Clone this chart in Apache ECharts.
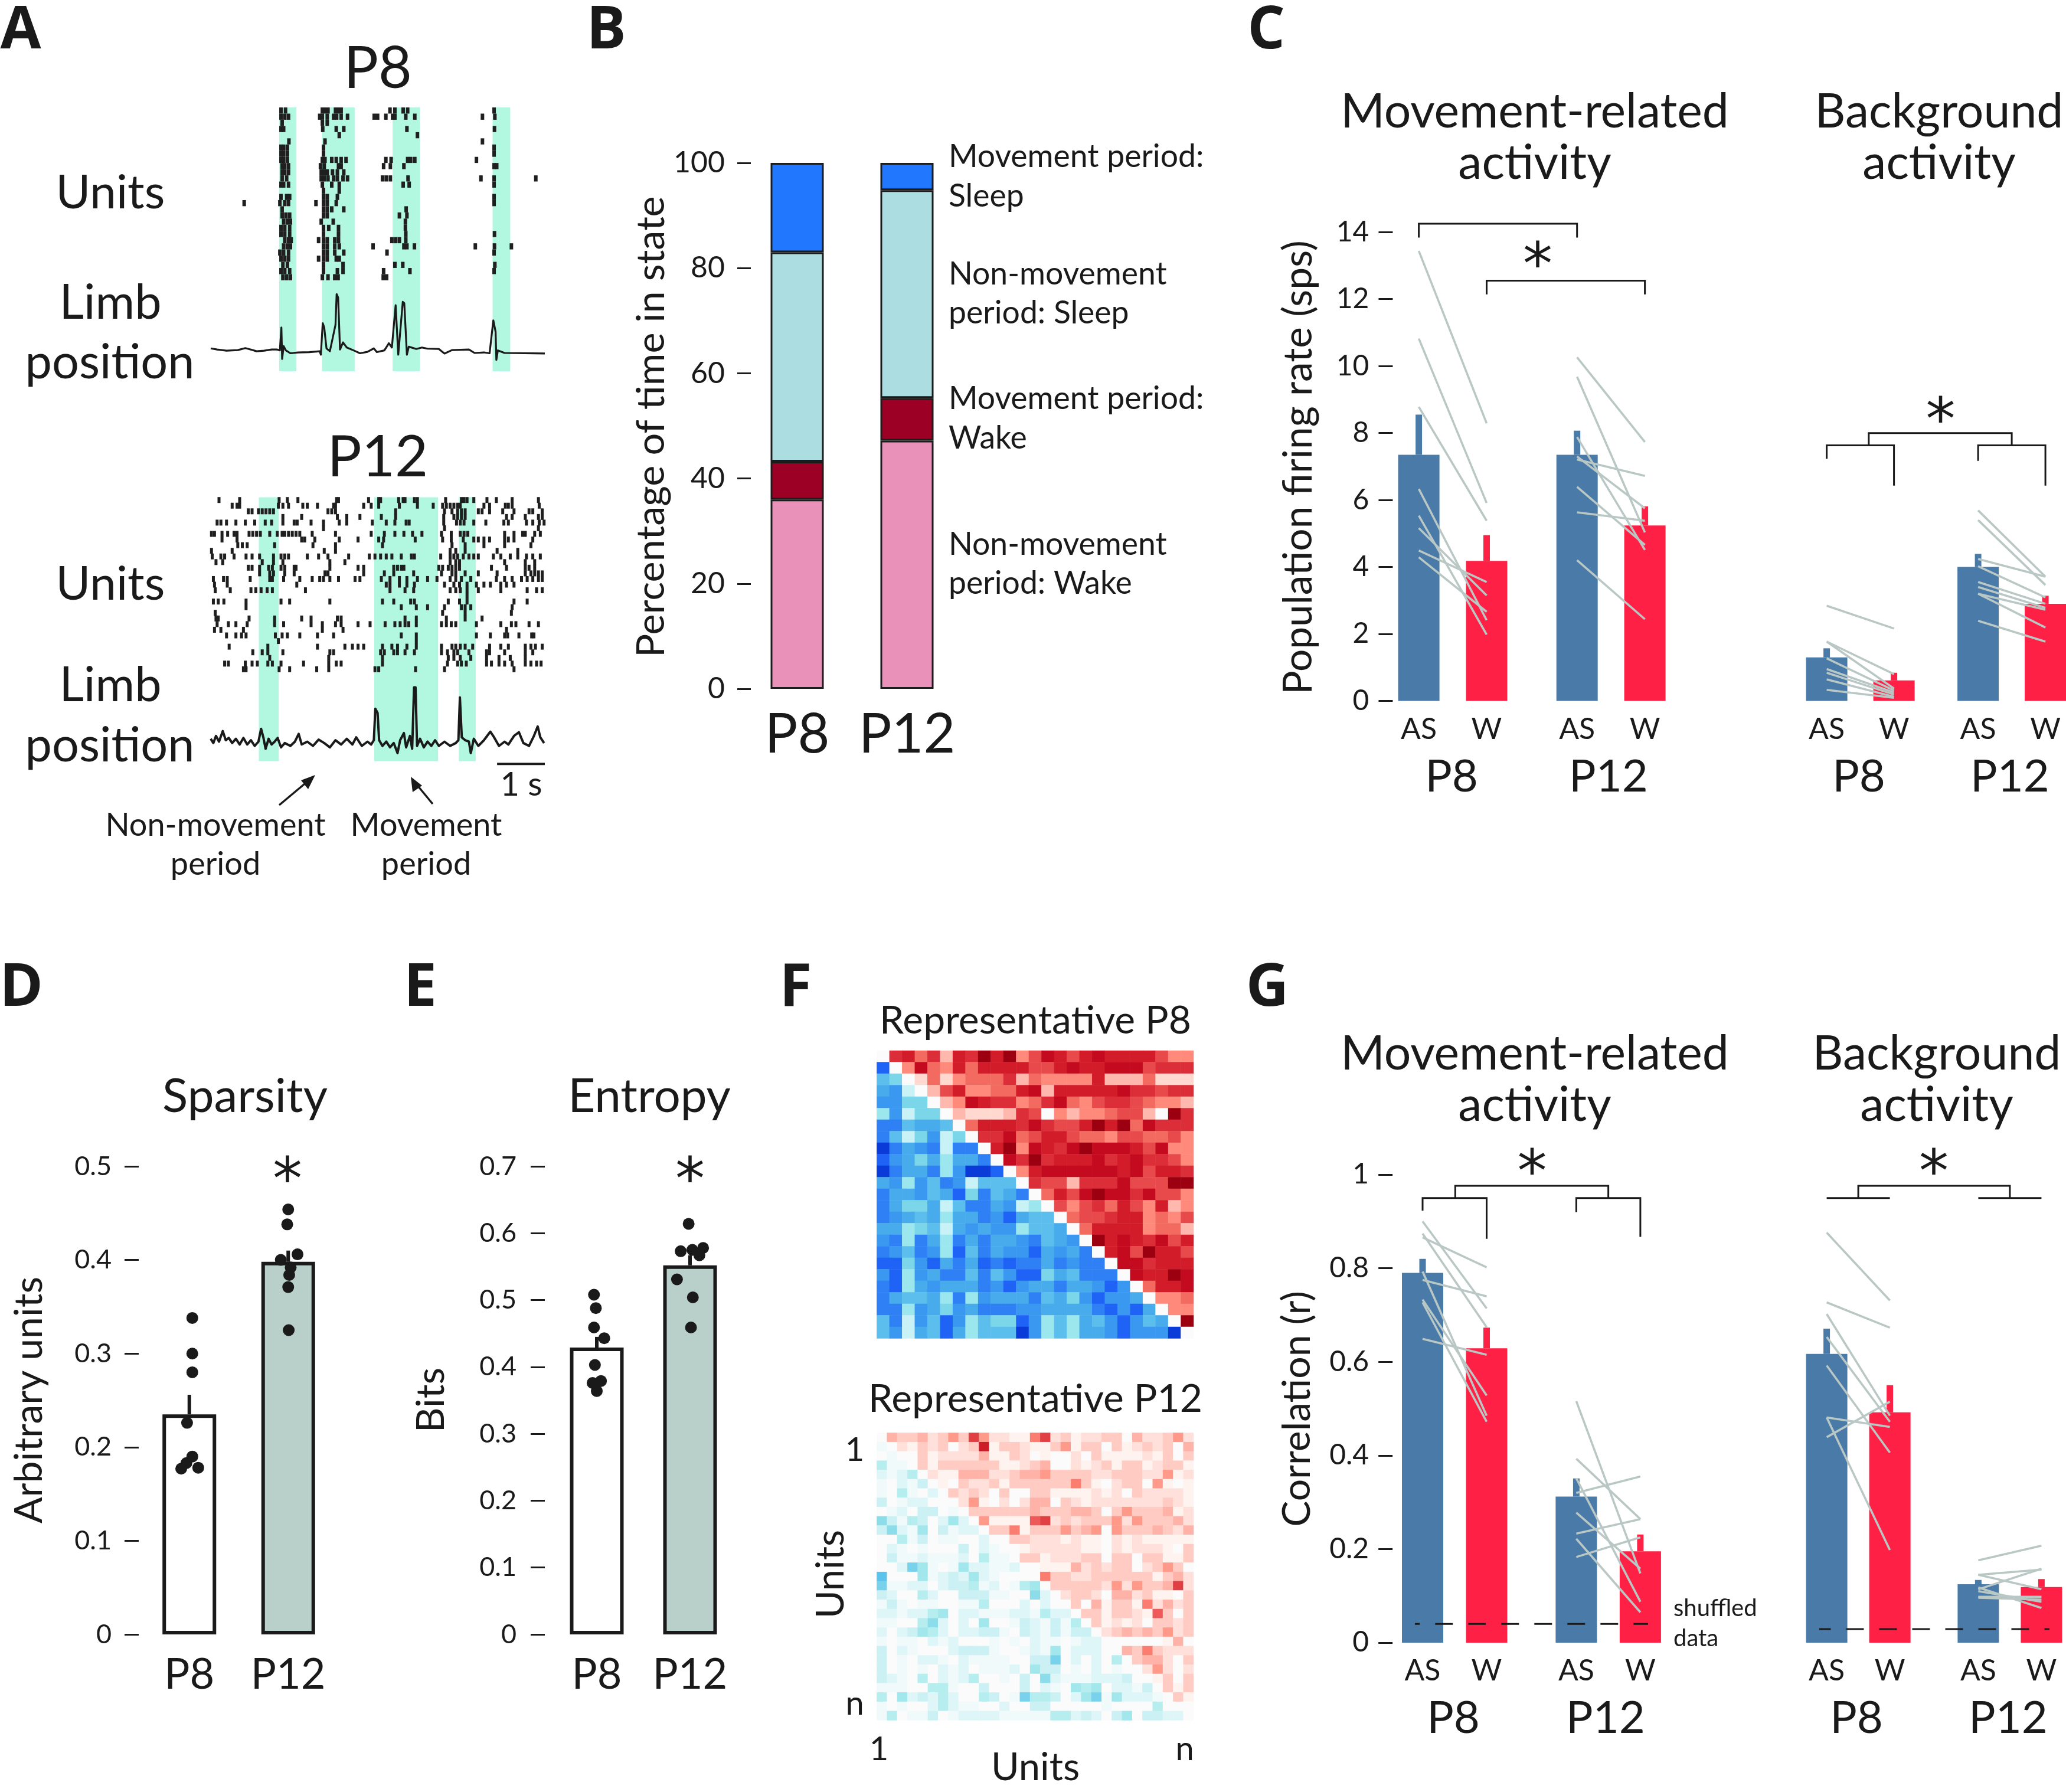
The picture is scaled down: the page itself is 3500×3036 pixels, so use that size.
<!DOCTYPE html>
<html><head><meta charset="utf-8">
<style>html,body{margin:0;padding:0;background:#fff}#c{width:3500px;height:3036px}</style>
<script src="https://cdn.jsdelivr.net/npm/echarts@6/dist/echarts.min.js"></script>
</head><body><div id="c"></div>
<script>
// ---------- Panel A: time in recording samples (127 samples = 1 s)
const p8Bands=[[740,786],[854,941],[1042,1115],[1308,1355]];
const p12Bands=[[686,739],[993,1163],[1218,1263]];
const p8Rows=[
[745,757,855,862,870,890,897,905,1035,1048,1070,1082,1312],
[745,755,765,848,855,868,885,893,905,922,993,1002,1024,1042,1048,1077,1101,1281,1314],
[748,855,868],
[745,752,856,892,912,1080,1313],
[900,1108],
[766,862,1281],
[745,752,762,858,1312],
[745,752,762,858,1312],
[745,752,762,855,862,880,892,905,918,1024,1038,1082,1090,1101,1265],
[748,755,765,850,860,898,905,1018,1036,1072,1312,1319],
[748,755,765,852,860,868,882,895,912],
[748,760,852,860,870,885,895,910,922,1015,1025,1036,1083,1277,1312,1423],
[745,752,765,855,880,900,1070,1086,1312],
[858,900],
[745,760,768,858,868,895,1312],
[647,742,755,765,838,858,868,892,1312],
[748,858,868,880,912,1078],
[748,758,768,858,868,1060,1080],
[752,762,770,852,884,1076],
[745,755,768,858,872,898,1076],
[745,755,768,858,898,1077,1313],
[755,765,772,845,858,868,888,898,1040,1050,1060,1077],
[752,762,770,858,868,888,900,990,1072,1080,1100,1262,1313,1358],
[742,752,765,858,868,888,912,1027,1312],
[745,755,765,845,858,868,892,900],
[750,762,858,910,1048,1069,1314],
[745,755,768,858,895,910,1018,1088,1312],
[750,760,770,855,870,888,897,1017,1026]];
const p12Rows=[
[580,635,740,762,790,893,898,978,1005,1010,1058,1070,1075,1100,1108,1183,1225,1232,1240,1258,1293,1318,1360,1430],
[615,628,635,738,750,765,803,815,842,885,890,965,985,1005,1060,1108,1150,1175,1185,1195,1205,1215,1222,1285,1300,1342,1350,1360,1432],
[658,668,685,695,705,715,725,870,880,890,1050,1180,1200,1215,1225,1235,1270,1280,1300,1335,1365,1405,1415,1440],
[750,800,895,920,955,1012,1050,1178,1205,1215,1225,1235,1345,1360,1395,1430,1440],
[575,585,600,625,650,675,703,720,750,780,788,825,858,900,920,988,1025,1048,1078,1086,1178,1212,1222,1232,1258,1290,1338,1350,1398,1415,1432,1445],
[858,1180,1430],
[560,568,588,603,620,628,660,670,680,690,715,735,748,755,765,775,785,795,828,890,985,1020,1048,1072,1095,1120,1172,1198,1222,1232,1242,1340,1365,1388,1395,1420,1435],
[588,628,800,808,835,900,950,1005,1018,1102,1175,1198,1230,1258,1270,1285,1300,1340,1350,1365,1415],
[630,642,655,728,830,890,1015,1200,1235,1285,1340,1410],
[560,615,860,890,1195,1210,1235,1320,1375],
[562,585,595,620,652,668,688,725,745,755,765,815,845,870,925,980,995,1010,1025,1040,1065,1092,1100,1170,1195,1205,1215,1230,1245,1258,1270,1310,1330,1355,1375,1398,1415,1435],
[572,590,695,725,750,875,915,1195,1210,1220,1340,1395,1420],
[658,668,688,712,722,745,755,780,785,875,950,965,1045,1055,1065,1072,1165,1175,1190,1200,1210,1220,1305,1345,1395,1405,1420],
[688,715,725,755,780,862,870,965,1020,1045,1098,1172,1200,1210,1235,1270,1320,1395,1410,1420,1430,1440],
[565,592,602,663,715,722,752,795,828,848,858,875,898,942,955,1012,1035,1060,1080,1108,1135,1160,1195,1210,1225,1250,1318,1340,1360,1385,1400,1415,1430,1440],
[568,602,787,1025,1035,1060,1080,1100,1180,1205,1220,1240,1265,1285,1302,1330,1345,1365],
[570,610,665,678,692,708,722,810,1035,1075,1098,1195,1210,1222,1240,1270,1330,1400,1425,1440],
[1240],
[565,578,593,652,745,768,875,1015,1045,1090,1100,1190,1220,1240,1365,1400],
[652,1065,1105,1135,1180,1225,1235,1250,1360],
[570,1175,1235,1358],
[572,578,660,728,800,825,895,905,1075,1105,1185,1235,1280],
[575,605,625,655,728,752,825,855,890,905,950,982,1022,1048,1062,1075,1085,1105,1172,1185,1198,1210,1265,1330,1358,1370,1405,1430],
[568,585,645,855,910,1345],
[600,625,640,652,730,748,762,795,842,885,1065,1105,1265,1302,1340,1348,1378,1412,1418],
[738,1105],
[607,710,842,915,935,950,965,1015,1040,1055,1080,1105,1172,1200,1210,1222,1235,1255,1300,1330,1350,1395,1410,1422,1440],
[670,695,710,750,875,885,1010,1020,1045,1055,1075,1100,1172,1188,1205,1215,1245,1292,1300,1340,1395,1415],
[715,872,1015,1190,1205,1222,1250,1292,1325,1355,1395],
[595,605,650,668,682,710,722,745,805,872,892,905,1015,1188,1215,1225,1238,1292,1305,1325,1340,1360,1395,1410,1425,1437],
[645,652,740,768,840,872,995,1005,1103,1180,1365]];
const p8Limb=[[558,80],[575,76],[600,72],[630,74],[650,81],[665,76],[680,70],[700,72],[720,76],[735,76],[742,73],[746,153],[748,43],[752,88],[758,73],[770,63],[790,66],[820,67],[848,70],[851,58],[856,168],[860,153],[866,80],[875,70],[882,113],[890,163],[893,270],[897,258],[902,76],[910,101],[920,83],[940,72],[955,63],[975,68],[992,80],[1000,67],[1020,73],[1032,98],[1040,83],[1050,231],[1057,58],[1069,243],[1073,238],[1080,58],[1085,86],[1105,78],[1120,83],[1135,79],[1165,78],[1180,62],[1200,74],[1245,76],[1260,64],[1285,66],[1300,63],[1310,178],[1316,138],[1318,40],[1322,73],[1340,64],[1447,62]];
const p12Limb=[[558,78],[565,63],[572,88],[580,68],[590,105],[598,73],[606,81],[615,63],[625,78],[635,58],[645,81],[655,58],[665,73],[675,53],[685,68],[692,113],[698,83],[704,43],[712,78],[720,58],[728,68],[736,81],[745,48],[755,63],[770,53],[782,68],[792,95],[800,58],[815,68],[830,53],[845,75],[860,63],[875,48],[890,73],[905,58],[920,78],[935,58],[945,83],[960,53],[975,68],[985,58],[992,73],[996,183],[1002,168],[1006,73],[1015,53],[1025,68],[1035,48],[1045,63],[1055,28],[1062,73],[1072,98],[1078,48],[1088,88],[1094,43],[1099,258],[1103,258],[1107,53],[1115,78],[1125,48],[1135,68],[1145,53],[1155,73],[1165,53],[1180,68],[1195,53],[1210,63],[1217,73],[1221,223],[1226,83],[1235,73],[1245,68],[1250,28],[1258,78],[1270,53],[1285,73],[1302,103],[1312,83],[1325,53],[1340,68],[1350,58],[1365,88],[1378,101],[1390,63],[1405,53],[1418,88],[1428,121],[1435,83],[1445,63]];
const scaleBarSamples=[1320,1447];

// ---------- Panel B
const bCategories=['P8','P12'];
const bNonMoveWake=[36,47.2];
const bMoveWake=[7.2,8.1];
const bNonMoveSleep=[39.8,39.5];
const bMoveSleep=[17,5.2];

// ---------- Panel C (mean, mean + s.e.m., paired lines AS -> W)
const cMoveMeans=[7.35,4.18,7.35,5.24];
const cMoveErr=[8.55,4.95,8.07,5.81];
const cBgMeans=[1.30,0.61,4.0,2.9];
const cBgErr=[1.57,0.84,4.39,3.14];
const cMoveP8AS=[13.44,10.82,8.78,6.33,5.53,5.16,4.49,4.29];
const cMoveP8W=[8.29,5.91,5.38,2.41,1.98,3.15,3.55,2.66];
const cMoveP12AS=[10.26,9.68,7.88,7.21,7.3,6.39,5.63,4.2];
const cMoveP12W=[7.73,5.03,4.51,6.72,5.75,4.66,5.38,2.44];
const cBgP8AS=[2.84,1.77,1.77,1.27,0.95,0.84,0.64,0.33];
const cBgP8W=[2.16,0.8,0.37,0.31,0.25,0.19,0.12,0.09];
const cBgP12AS=[5.69,5.4,4.24,4.02,3.55,3.4,3.2,3.2,2.39];
const cBgP12W=[3.71,3.46,3.71,3.09,2.9,2.78,2.72,2.19,1.77];

// ---------- Panel D / E
const dMeans=[0.235,0.398], dErr=[0.256,0.41];
const dP8Dots=[0.338,0.30,0.28,0.226,0.19,0.183,0.177,0.178];
const dP8Jitter=[0.03,0.03,0.03,-0.023,0.03,-0.03,-0.082,0.09];
const dP12Dots=[0.454,0.438,0.406,0.40,0.392,0.384,0.371,0.325];
const dP12Jitter=[0,-0.01,0.094,-0.075,0.025,0.01,0,0.005];
const eMeans=[0.429,0.552], eErr=[0.445,0.567];
const eP8Dots=[0.508,0.488,0.459,0.443,0.403,0.379,0.376,0.364];
const eP8Jitter=[-0.03,-0.01,-0.03,0.08,-0.02,0.045,-0.045,0];
const eP12Dots=[0.614,0.573,0.575,0.578,0.567,0.531,0.504,0.459];
const eP12Jitter=[-0.015,-0.1,0.025,0.14,0.1,-0.14,0.03,0.01];

// ---------- Panel F: shade level 0-9, upper triangle red, lower triangle blue
const p8Levels=[
"06746 27697 93587 57877 77533","80384 37477 77557 87788 85666","43014 13444 62433 33722 24111","56102 57334 47827 77778 66566","66330 23876 63468 43566 54332",
"26133 02111 26503 23345 52096","77455 40477 76865 57979 48666","74136 13066 84577 54435 54453","97567 17707 93876 89888 75833","86535 25570 86967 77867 86653",
"97557 26998 03788 88887 85776","56264 76144 40655 26668 55599","75564 58374 57047 58988 68553","75335 14775 61205 35647 53723","76545 25576 85440 45567 73435",
"55234 15656 62445 04777 73442","67275 27575 56745 60978 76857","76476 28475 66856 57078 59775","88368 57587 87757 67708 86777","68265 77474 68835 47770 87798",
"78256 55576 86557 55686 04778","75445 27265 55745 36866 50334","77265 36577 76655 55786 85033","47164 86243 38624 25468 64509","46154 85244 49624 25568 66690"];
const p12Levels=[
"04334 23538 52211 68231 22330 42235 2","10213 23023 91332 11351 33031 23230 4","01003 12222 41132 01002 03111 12130 3","41103 13333 33112 34002 12313 31233 1",
"21240 21144 42234 45333 32233 32251 2","10213 01032 23133 33336 31023 30510 1","10410 20323 20300 33111 12120 32222 1","30122 00025 10202 44032 12222 22232 1",
"01203 30103 33333 43334 43035 33341 2","63143 02520 51111 78232 33352 53334 2","36215 03122 03361 33353 45053 33432 4","00413 01100 20033 22212 11021 21111 1",
"02101 00030 21001 22222 11021 22210 3","03112 11120 41103 31222 33033 03311 3","00275 10152 21120 01114 23233 02353 0","80005 12325 21000 06332 23333 33134 2",
"71122 02334 12014 50333 33252 53348 2","32004 20033 31100 62023 32044 23110 3","13101 10011 40002 02003 04133 16242 3","22122 45022 11122 14220 33133 21730 3",
"11004 62020 50013 21314 03121 20332 3","20235 42022 33103 21313 30234 34352 3","10110 21200 01010 21101 22000 00014 0","30210 00233 31001 21502 22004 36322 2",
"30102 21021 11100 33702 02040 34420 3","30101 02120 11120 53301 02010 02520 2","32104 02124 00103 06211 12223 00130 3","11100 44100 30003 02105 45022 13031 3",
"40523 24200 43017 44302 57152 22103 1","10100 24211 00200 33000 00100 00400 0","14011 30122 22111 11442 32035 03322 0"];

// ---------- Panel G
const gMoveMeans=[0.79,0.629,0.312,0.195];
const gMoveErr=[0.82,0.673,0.351,0.231];
const gBgMeans=[0.617,0.492,0.125,0.119];
const gBgErr=[0.671,0.55,0.134,0.136];
const gMoveP8AS=[0.90,0.874,0.866,0.793,0.775,0.733,0.727,0.649];
const gMoveP8W=[0.714,0.674,0.802,0.485,0.74,0.528,0.472,0.615];
const gMoveP12AS=[0.516,0.393,0.351,0.32,0.278,0.233,0.222,0.183];
const gMoveP12W=[0.148,0.264,0.0875,0.355,0.158,0.264,0.065,0.225];
const gBgP8AS=[0.876,0.727,0.702,0.653,0.592,0.481,0.439,0.481];
const gBgP8W=[0.731,0.673,0.485,0.472,0.406,0.198,0.515,0.461];
const gBgP12AS=[0.176,0.145,0.145,0.114,0.11,0.098,0.096,0.118];
const gBgP12W=[0.207,0.156,0.114,0.158,0.0875,0.098,0.092,0.074];
const gShuffledMove=0.04, gShuffledBg=0.029;

// ---------- styling
const FF='Lato', INK='#1a1a1a', BLUE='#4A7BA8', RED='#FF2145', GRAY='#B9C7C5', MINT='#B2F7E0';
const grids=[],xAxes=[],yAxes=[],series=[],gfx=[],visualMaps=[];
const T=(text,x,y,size,o={})=>gfx.push({type:'text',x,y,rotation:o.rot||0,z:50,silent:true,style:{text,fontFamily:o.ff||FF,fontSize:size,fontWeight:o.w||'normal',fill:INK,align:o.a||'center',verticalAlign:'middle'}});
const STAR=(x,y)=>T('*',x,y+23,100,{ff:'DejaVu Sans'});
const LINE=(g,pts,color,width,o={})=>series.push({type:'line',xAxisIndex:g.xv,yAxisIndex:g.y,data:pts,symbol:'none',clip:false,silent:true,animation:false,z:o.z||5,lineStyle:{color,width,type:o.dash||'solid',cap:'butt',join:'miter'}});

function addPanel(c){
  const gi=grids.length;
  grids.push({left:c.left,top:c.top,width:c.width,height:c.height,containLabel:false});
  const xc=xAxes.length;
  xAxes.push({gridIndex:gi,type:'category',data:c.slots,axisLine:{show:false},axisTick:{show:false},
    axisLabel:{interval:0,hideOverlap:false,margin:c.xMargin,fontFamily:FF,fontSize:c.xSize,color:INK}});
  const xv=xAxes.length;
  xAxes.push({gridIndex:gi,type:'value',show:false,min:-0.5,max:c.slots.length-0.5});
  const y=yAxes.length;
  yAxes.push({gridIndex:gi,type:'value',min:0,max:c.yMax,interval:c.yInt,show:c.showY!==false,offset:c.offset||0,splitLine:{show:false},axisLine:{show:false,onZero:false},
    axisTick:{show:true,length:c.tick,lineStyle:{color:INK,width:3}},
    axisLabel:{margin:c.yMargin,fontFamily:FF,fontSize:c.ySize,color:INK}});
  return {xc,xv,y};
}
function bars(g,slotsN,pos,vals,colors,extra={}){
  const d=new Array(slotsN).fill('-');
  pos.forEach((p,i)=>{d[p]={value:vals[i],itemStyle:{color:colors[i],borderColor:extra.border||null,borderWidth:extra.bw||0}}});
  series.push({type:'bar',xAxisIndex:g.xc,yAxisIndex:g.y,data:d,barWidth:extra.w,clip:false,silent:true,animation:false,z:2});
}
function slotLabels(n,pos,labels){const s=new Array(n).fill('');pos.forEach((p,i)=>{s[p]=labels[i]||' '});return s;}
function pairs(g,a,b,x0,x1){a.forEach((v,i)=>LINE(g,[[x0,v],[x1,b[i]]],GRAY,3.6,{z:6}));}

// ---------- Panel A
function raster(top,rows,bands,limb,rowMax,mk,limbW){
  const gi=grids.length;
  grids.push({left:357,top,width:566,height:447,containLabel:false});
  const x=xAxes.length;xAxes.push({gridIndex:gi,type:'value',show:false,min:558,max:1447});
  const yr=yAxes.length;yAxes.push({gridIndex:gi,type:'value',show:false,inverse:true,min:0,max:rowMax});
  const yl=yAxes.length;yAxes.push({gridIndex:gi,type:'value',show:false,min:0,max:923});
  series.push({type:'custom',xAxisIndex:x,yAxisIndex:yl,data:bands,silent:true,animation:false,z:1,clip:false,
    renderItem:(p,api)=>{const a=api.coord([api.value(0),923]),b=api.coord([api.value(1),0]);
      return {type:'rect',shape:{x:a[0],y:a[1],width:b[0]-a[0],height:b[1]-a[1]},style:{fill:MINT}}},
    encode:{x:[0,1],y:[]}});
  const pts=[];rows.forEach((r,i)=>r.forEach(t=>pts.push([t,i+0.5])));
  series.push({type:'scatter',xAxisIndex:x,yAxisIndex:yr,data:pts,symbol:'rect',symbolSize:mk,silent:true,animation:false,z:3,itemStyle:{color:'#1f1f1f',opacity:1}});
  series.push({type:'line',xAxisIndex:x,yAxisIndex:yl,data:limb,symbol:'none',silent:true,animation:false,clip:false,z:4,lineStyle:{color:INK,width:limbW,join:'round'}});
  return {xv:x,y:yl};
}
raster(182,p8Rows,p8Bands,p8Limb,42.73,[6,10.4],3.2);
const a2=raster(842.4,p12Rows,p12Bands,p12Limb,46.78,[5,10],4);
LINE(a2,[[scaleBarSamples[0],-10],[scaleBarSamples[1],-10]],INK,4);

// ---------- Panel B
(function(){
  const gi=grids.length;
  grids.push({left:1257.5,top:276,width:372,height:891,containLabel:false});
  const x=xAxes.length;xAxes.push({gridIndex:gi,type:'category',data:bCategories,axisLine:{show:false},axisTick:{show:false},axisLabel:{interval:0,hideOverlap:false,margin:31,fontFamily:FF,fontSize:93,color:INK}});
  const y=yAxes.length;yAxes.push({gridIndex:gi,type:'value',min:0,max:100,interval:20,offset:-14.5,splitLine:{show:false},axisLine:{show:false,onZero:false},axisTick:{show:true,length:23,lineStyle:{color:INK,width:3}},axisLabel:{margin:44,fontFamily:FF,fontSize:50,color:INK}});
  [[bNonMoveWake,'#E991B8'],[bMoveWake,'#9C0025'],[bNonMoveSleep,'#ABDDE1'],[bMoveSleep,'#2277FF']].forEach(([d,col])=>
    series.push({type:'bar',stack:'b',xAxisIndex:x,yAxisIndex:y,data:d,barWidth:90,silent:true,animation:false,itemStyle:{color:col,borderColor:'#1c1c1c',borderWidth:3}}));
})();

// ---------- Panel C
const cCommon={top:393.3,height:794.1,yMax:14,yInt:2,xMargin:23,xSize:50};
const cLeftPos=[0,3,7,10], cRightPos=[0,4,9,13];
const SL=['AS','W','AS','W'];
const gC1=addPanel({...cCommon,left:2384.45,width:421.3,slots:slotLabels(11,cLeftPos,SL),offset:25,tick:24,yMargin:40,ySize:48});
bars(gC1,11,cLeftPos,cMoveMeans,[BLUE,RED,BLUE,RED],{w:70});
cLeftPos.forEach((p,i)=>LINE(gC1,[[p,cMoveMeans[i]],[p,cMoveErr[i]]],i%2?RED:BLUE,11,{z:3}));
pairs(gC1,cMoveP8AS,cMoveP8W,0,3);pairs(gC1,cMoveP12AS,cMoveP12W,7,10);
LINE(gC1,[[0,13.84],[0,14.25],[7,14.25],[7,13.84]],INK,3);
LINE(gC1,[[3,12.14],[3,12.55],[10,12.55],[10,12.14]],INK,3);
const gC2=addPanel({...cCommon,left:3080.35,width:399,slots:slotLabels(14,cRightPos,SL),showY:false,tick:0,yMargin:0,ySize:10});
bars(gC2,14,cRightPos,cBgMeans,[BLUE,RED,BLUE,RED],{w:70});
cRightPos.forEach((p,i)=>LINE(gC2,[[p,cBgMeans[i]],[p,cBgErr[i]]],i%2?RED:BLUE,11,{z:3}));
pairs(gC2,cBgP8AS,cBgP8W,0,4);pairs(gC2,cBgP12AS,cBgP12W,9,13);
LINE(gC2,[[0,7.23],[0,7.63],[4,7.63],[4,6.43]],INK,3);
LINE(gC2,[[9,7.17],[9,7.63],[13,7.63],[13,6.43]],INK,3);
LINE(gC2,[[2.5,7.63],[2.5,8.0],[11,8.0],[11,7.63]],INK,3);

// ---------- Panel D, E
function dotPanel(left,width,yMax,offset,yMargin,means,err,dotsA,jitA,dotsB,jitB){
  const g=addPanel({left,width,top:1976,height:793,slots:['P8','P12'],yMax,yInt:0.1,offset,tick:24,yMargin,ySize:45,xMargin:33,xSize:72});
  bars(g,2,[0,1],means,['#FFFFFF','#B9D0CA'],{w:91,border:INK,bw:6});
  [0,1].forEach(i=>LINE(g,[[i,means[i]],[i,err[i]]],INK,6,{z:3}));
  const pts=[...dotsA.map((v,i)=>[jitA[i],v]),...dotsB.map((v,i)=>[1+jitB[i],v])];
  series.push({type:'scatter',xAxisIndex:g.xv,yAxisIndex:g.y,data:pts,symbol:'circle',symbolSize:20,silent:true,animation:false,clip:false,z:8,itemStyle:{color:INK,opacity:1}});
}
dotPanel(237,335,0.5,2,46,dMeans,dErr,dP8Dots,dP8Jitter,dP12Dots,dP12Jitter);
dotPanel(932,316,0.7,9,48,eMeans,eErr,eP8Dots,eP8Jitter,eP12Dots,eP12Jitter);

// ---------- Panel F
function heat(top,height,levels,reds,blues){
  const rows=levels.map(s=>s.replace(/ /g,''));
  const n=rows.length,gi=grids.length,idx=[...Array(n).keys()];
  grids.push({left:1485.4,top,width:536.6,height,containLabel:false});
  const x=xAxes.length;xAxes.push({gridIndex:gi,type:'category',show:false,data:idx});
  const y=yAxes.length;yAxes.push({gridIndex:gi,type:'category',show:false,inverse:true,data:idx});
  const data=[];rows.forEach((s,r)=>[...s].forEach((ch,c)=>data.push([c,r,(r<c?1:-1)*Number(ch)])));
  series.push({type:'heatmap',xAxisIndex:x,yAxisIndex:y,data,silent:true,animation:false,emphasis:{disabled:true},progressive:0});
  visualMaps.push({show:false,seriesIndex:series.length-1,dimension:2,min:-9,max:9,inRange:{color:[...blues.slice(1).reverse(),blues[0],...reds.slice(1)]}});
}
heat(1780,487.5,p8Levels,['#FBFBFB','#FFD8D0','#FFB8AE','#FF8A7C','#F26A60','#E84A4C','#DC2E38','#D21C2A','#C40A1E','#9C0010'],['#FBFBFB','#C8F2F6','#9CE6EE','#7CD6EA','#5CBEEC','#48ACEC','#3A98F0','#2E80F4','#1E62F6','#0A3AD8']);
heat(2427.5,487,p12Levels,['#FBFBFB','#FFF3EF','#FFE0DA','#FFCBC2','#FFB3A8','#FF9A8A','#FA7D70','#EE5A5A','#E04044','#CC1C28'],['#FBFBFB','#F0FAFB','#DFF6F8','#CCF1F4','#B6EDEF','#A2E7EC','#8CDDE9','#78D2EC','#5CC4EC','#40B0E8']);

// ---------- Panel G
const gCommon={top:1990,height:793,yMax:1,yInt:0.2,xMargin:23,xSize:50};
const gPos=[0,5,12,17];
const gG1=addPanel({...gCommon,left:2399.15,width:390.6,slots:slotLabels(18,gPos,SL),offset:40,tick:24,yMargin:40,ySize:48});
bars(gG1,18,gPos,gMoveMeans,[BLUE,RED,BLUE,RED],{w:70});
gPos.forEach((p,i)=>LINE(gG1,[[p,gMoveMeans[i]],[p,gMoveErr[i]]],i%2?RED:BLUE,11,{z:3}));
pairs(gG1,gMoveP8AS,gMoveP8W,0,5);pairs(gG1,gMoveP12AS,gMoveP12W,12,17);
LINE(gG1,[[-1.6,gShuffledMove],[17.86,gShuffledMove]],INK,3,{dash:[30,26],z:7});
LINE(gG1,[[0,0.923],[0,0.95],[5,0.95],[5,0.863]],INK,3);
LINE(gG1,[[12,0.92],[12,0.95],[17,0.95],[17,0.867]],INK,3);
LINE(gG1,[[2.55,0.95],[2.55,0.976],[14.5,0.976],[14.5,0.95]],INK,3);
const gG2=addPanel({...gCommon,left:3083.9,width:385.2,slots:slotLabels(18,gPos,SL),showY:false,tick:0,yMargin:0,ySize:10});
bars(gG2,18,gPos,gBgMeans,[BLUE,RED,BLUE,RED],{w:70});
gPos.forEach((p,i)=>LINE(gG2,[[p,gBgMeans[i]],[p,gBgErr[i]]],i%2?RED:BLUE,11,{z:3}));
pairs(gG2,gBgP8AS,gBgP8W,0,5);pairs(gG2,gBgP12AS,gBgP12W,12,17);
LINE(gG2,[[-1.08,gShuffledBg],[18.6,gShuffledBg]],INK,3,{dash:[30,26],z:7});
LINE(gG2,[[0,0.95],[5,0.95]],INK,3);
LINE(gG2,[[12,0.95],[17,0.95]],INK,3);
LINE(gG2,[[2.5,0.95],[2.5,0.976],[14.5,0.976],[14.5,0.95]],INK,3);

// ---------- Text
[['A',35,54],['B',1027,54],['C',2145,54],['D',36,1676],['E',712,1676],['F',1348,1676],['G',2147,1676]].forEach(([s,x,y])=>T(s,x,y,100,{w:'bold',ff:'Open Sans'}));
T('P8',640,117,98);T('P12',640,776,97);
T('Units',187,327,80);T('Limb',187,514,81);T('position',186,615,81);
T('Units',187,990,80);T('Limb',187,1162,81);T('position',186,1264,81);
T('1 s',883,1330,56);
T('Non-movement',365,1399,54);T('period',365,1465,54);T('Movement',722,1399,54);T('period',722,1465,54);
gfx.push({type:'line',shape:{x1:473,y1:1364,x2:528,y2:1318},z:50,silent:true,style:{stroke:INK,lineWidth:3.5}});
gfx.push({type:'polygon',shape:{points:[[534,1313],[510,1322],[522,1337]]},z:50,silent:true,style:{fill:INK}});
gfx.push({type:'line',shape:{x1:733,y1:1362,x2:700,y2:1322},z:50,silent:true,style:{stroke:INK,lineWidth:3.5}});
gfx.push({type:'polygon',shape:{points:[[696,1316],[699,1342],[715,1331]]},z:50,silent:true,style:{fill:INK}});
T('Percentage of time in state',1104,723,66.5,{rot:Math.PI/2});
[['Movement period:',266],['Sleep',333],['Non-movement',465],['period: Sleep',531],['Movement period:',676],['Wake',743],['Non-movement',923],['period: Wake',989]].forEach(([s,y])=>T(s,1607,y,53.5,{a:'left'}));
[['Movement-related',2600,190],['activity',2600,277],['Background',3285,190],['activity',3285,277],['Movement-related',2600,1786],['activity',2600,1873],['Background',3281,1786],['activity',3281,1873]].forEach(([s,x,y])=>T(s,x,y,80.5));
T('Population firing rate (sps)',2200,792,67.5,{rot:Math.PI/2});
[['P8',2459],['P12',2725],['P8',3149],['P12',3405]].forEach(([s,x])=>T(s,x,1316,76));
[['P8',2462],['P12',2720],['P8',3145],['P12',3402]].forEach(([s,x])=>T(s,x,2911,76));
STAR(2605,433);STAR(3287.5,696);STAR(2595.5,1970);STAR(3276,1970);STAR(487,1983);STAR(1169,1983);
T('Sparsity',415,1858,80);T('Entropy',1100,1858,80);
T('Arbitrary units',50,2372,66,{rot:Math.PI/2});T('Bits',731,2372,66,{rot:Math.PI/2});
T('Representative P8',1754,1730,66);T('Representative P12',1754,2371,66);
T('1',1448,2457,56);T('n',1448,2887,56);T('1',1489,2964,56);T('n',2007,2964,56);
T('Units',1408,2667,65,{rot:Math.PI/2});T('Units',1754,2995,65);
T('Correlation (r)',2198,2387,66,{rot:Math.PI/2});
T('shuffled',2835,2725,40,{a:'left'});T('data',2835,2776,40,{a:'left'});

const chart=echarts.init(document.getElementById('c'),null,{renderer:'canvas'});
chart.setOption({animation:false,backgroundColor:'#fff',grid:grids,xAxis:xAxes,yAxis:yAxes,series,visualMap:visualMaps,graphic:gfx});
</script></body></html>
